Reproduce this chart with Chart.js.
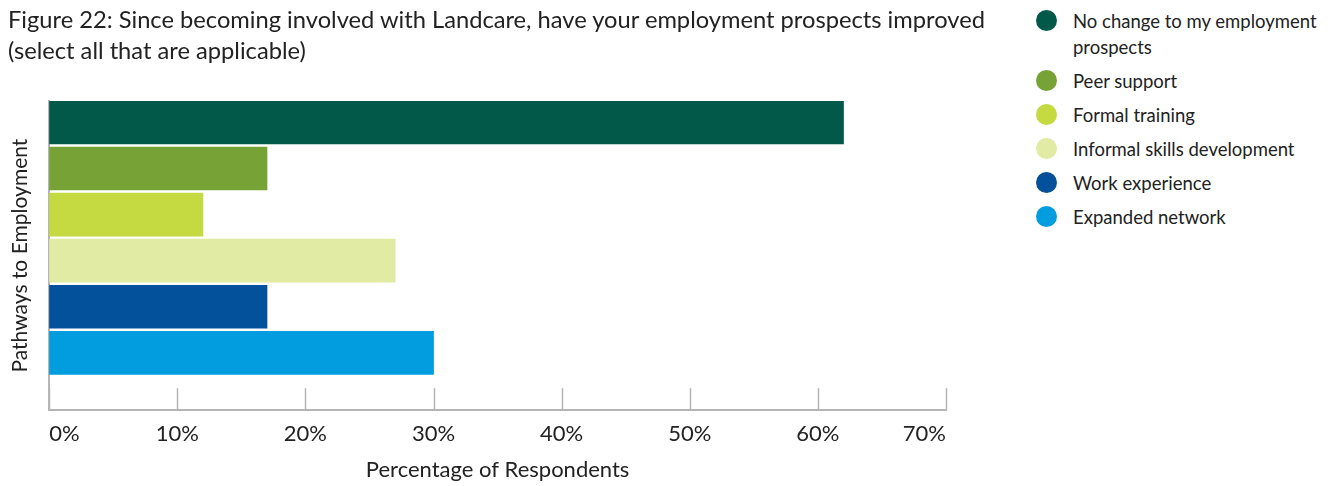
<!DOCTYPE html>
<html>
<head>
<meta charset="utf-8">
<script src="https://cdn.jsdelivr.net/npm/chart.js@4"></script>
<style>
  body { margin: 0; background: #fff; font-family: Lato, sans-serif; }
  #title { position: absolute; left: 8px; top: 4px; font-size: 23.7px; line-height: 31px; color: #222; white-space: nowrap; }
  #wrap { position: absolute; left: 0; top: 0; width: 1000px; height: 486px; }
  #legend { position: absolute; left: 1036px; top: 8px; width: 300px; color: #222; font-size: 18.5px; }
  .item { position: relative; padding-left: 37px; line-height: 26px; margin-bottom: 8px; }
  .dot { position: absolute; left: 0; top: 2px; width: 21px; height: 21px; border-radius: 50%; }
</style>
</head>
<body>
<div id="wrap"><canvas id="chart"></canvas></div>
<div id="title"></div>
<div id="legend"></div>
<script>
// ── data ───────────────────────────────────────────────
const titleLines = [
  'Figure 22: Since becoming involved with Landcare, have your employment prospects improved',
  '(select all that are applicable)'
];
const seriesNames = [
  'No change to my employment prospects',
  'Peer support',
  'Formal training',
  'Informal skills development',
  'Work experience',
  'Expanded network'
];
const seriesValues = [62, 17, 12, 27, 17, 30];
const seriesColors = ['#02594a', '#76a236', '#c4da40', '#e1eba3', '#02519a', '#029ddf'];
const xTicks = [0, 10, 20, 30, 40, 50, 60, 70];
const yTitle = 'Pathways to Employment';
const xTitle = 'Percentage of Respondents';

const axisGrey = '#b5b5b5';
const textCol = '#222';

// title as html: the canvas title gets squeezed to the padded width
document.getElementById('title').innerHTML = titleLines.join('<br>');

// legend built as html so the long label can wrap
const legendEl = document.getElementById('legend');
seriesNames.forEach((name, i) => {
  const d = document.createElement('div');
  d.className = 'item';
  d.innerHTML = '<span class="dot" style="background:' + seriesColors[i] + '"></span>' + name;
  legendEl.appendChild(d);
});

// short upward tick marks sitting on the x axis
const upTicks = {
  id: 'upTicks',
  afterDatasetsDraw(chart) {
    const x = chart.scales.x, area = chart.chartArea, c = chart.ctx;
    c.save();
    c.strokeStyle = axisGrey;
    c.lineWidth = 1.5;
    xTicks.forEach(v => {
      const px = Math.round(x.getPixelForValue(v)) + 0.5;
      c.beginPath();
      c.moveTo(px, area.bottom);
      c.lineTo(px, area.bottom - 22);
      c.stroke();
    });
    c.restore();
  }
};

new Chart(document.getElementById('chart'), {
  type: 'bar',
  data: {
    datasets: seriesNames.map((name, i) => ({
      label: name,
      data: [{ x: seriesValues[i], y: i }],
      backgroundColor: seriesColors[i],
      borderWidth: 0
    }))
  },
  options: {
    indexAxis: 'y',
    responsive: true,
    maintainAspectRatio: false,
    animation: false,
    grouped: false,
    barThickness: 43,
    layout: { padding: { left: 8, right: 54, top: 101, bottom: 0 } },
    plugins: {
      legend: { display: false },
      tooltip: { enabled: false }
    },
    scales: {
      x: {
        type: 'linear',
        min: 0,
        max: 70,
        grid: { display: false },
        border: { display: true, color: axisGrey, width: 2 },
        ticks: {
          stepSize: 10,
          padding: 3,
          align: 'inner',
          color: textCol,
          font: { family: 'Lato', size: 22 },
          callback: v => v + '%'
        },
        title: {
          display: true,
          text: xTitle,
          color: textCol,
          font: { family: 'Lato', size: 22 },
          padding: { top: 6, bottom: 3 }
        }
      },
      y: {
        type: 'linear',
        reverse: true,
        offset: false,
        bounds: 'data',
        min: -0.465,
        max: 6.245,
        grid: { display: false, offset: false },
        border: { display: true, color: axisGrey, width: 2 },
        ticks: { display: false, stepSize: 1, includeBounds: false },
        title: {
          display: true,
          text: yTitle,
          color: textCol,
          font: { family: 'Lato', size: 21 },
          padding: { top: 0, bottom: 8 }
        }
      }
    }
  },
  plugins: [upTicks]
});
</script>
</body>
</html>
